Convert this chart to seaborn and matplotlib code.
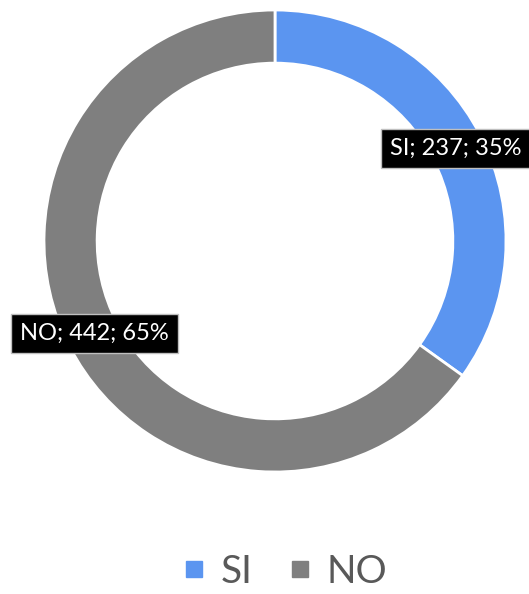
import numpy as np
import matplotlib
matplotlib.use("Agg")
import matplotlib.pyplot as plt
import seaborn as sns
from matplotlib.lines import Line2D

# datos
categorias = ["SI", "NO"]
valores = [237, 442]
porcentajes = [35, 65]

sns.set_theme(style="white")
plt.rcParams['font.family'] = ['Lato', 'DejaVu Sans']

colores = ["#5B95F0", "#7F7F7F"]

fig = plt.figure(figsize=(5.29, 5.94), dpi=100)
ax = fig.add_axes([44 / 529, 122 / 594, 462 / 529, 462 / 594])

wedges, _ = ax.pie(valores, colors=colores, startangle=90, counterclock=False,
                   radius=1.0, wedgeprops=dict(width=0.23, edgecolor="white", linewidth=2))
ax.set_xlim(-1, 1)
ax.set_ylim(-1, 1)
ax.set_aspect("equal")
ax.axis("off")

# etiquetas de datos
for w, cat, val, pct in zip(wedges, categorias, valores, porcentajes):
    ang = np.deg2rad((w.theta1 + w.theta2) / 2)
    x, y = 0.88 * np.cos(ang), 0.88 * np.sin(ang)
    ax.text(x, y, f"{cat}; {val}; {pct}%", ha="center", va="center", color="white",
            fontsize=17, clip_on=False,
            bbox=dict(boxstyle="square,pad=0.38", facecolor="black", edgecolor="#BFBFBF", linewidth=1))

# leyenda
handles = [Line2D([0], [0], marker="s", linestyle="none", markersize=12,
                  markerfacecolor=c, markeredgecolor=c) for c in colores]
fig.legend(handles, categorias, loc="center", bbox_to_anchor=(0.535, 0.037), ncol=2,
           frameon=False, fontsize=28, labelcolor="#595959", handlelength=0.8,
           handletextpad=0.3, columnspacing=0.8)

fig.savefig("out.png", dpi=100)
